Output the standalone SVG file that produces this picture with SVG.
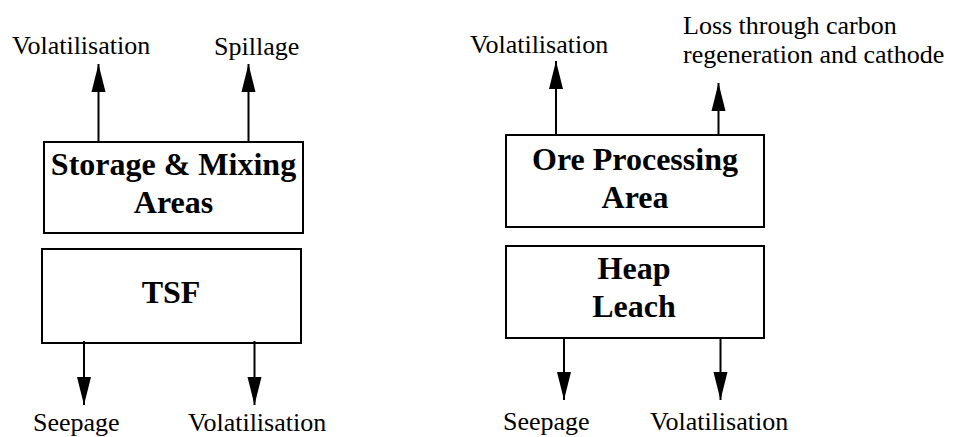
<svg xmlns="http://www.w3.org/2000/svg" width="953" height="437" viewBox="0 0 953 437">
  <style>
    .box { fill: #fff; stroke: #000; stroke-width: 2; }
    .title { font-size: 32px; font-weight: bold; fill: #000; text-anchor: middle; }
    .lbl { font-size: 26px; fill: #000; }
    .flow { stroke: #000; stroke-width: 2; fill: none; marker-end: url(#head); }
  </style>
  <defs>
    <marker id="head" markerUnits="userSpaceOnUse" markerWidth="30" markerHeight="16" refX="28" refY="7" orient="auto" viewBox="0 0 30 14">
      <path d="M0,0 L28,7 L0,14 Z" fill="#000"/>
    </marker>
  </defs>

  <rect width="953" height="437" fill="#fff"/>

  <g font-family="'Liberation Serif', 'Times New Roman', Tinos, 'DejaVu Serif', serif">
    <!-- Tailings side -->
    <g id="storage-mixing">
      <rect class="box" x="44" y="142" width="259" height="91"/>
      <text class="title" x="173.5" y="175">Storage &amp; Mixing</text>
      <text class="title" x="173.5" y="213">Areas</text>
    </g>
    <g id="tsf">
      <rect class="box" x="42" y="249" width="259" height="94"/>
      <text class="title" x="171" y="303">TSF</text>
    </g>

    <!-- Processing side -->
    <g id="ore-processing">
      <rect class="box" x="506" y="135" width="258" height="92"/>
      <text class="title" x="635" y="170">Ore Processing</text>
      <text class="title" x="635" y="208">Area</text>
    </g>
    <g id="heap-leach">
      <rect class="box" x="506" y="246" width="258" height="92"/>
      <text class="title" x="634" y="279">Heap</text>
      <text class="title" x="634" y="317">Leach</text>
    </g>

    <!-- Loss pathways -->
    <g id="connectors">
      <line class="flow" x1="98.5" y1="142" x2="98.5" y2="64"/>
      <line class="flow" x1="248.5" y1="142" x2="248.5" y2="64"/>
      <line class="flow" x1="84" y1="341" x2="84" y2="405"/>
      <line class="flow" x1="254.5" y1="341" x2="254.5" y2="405"/>
      <line class="flow" x1="556" y1="135" x2="556" y2="61"/>
      <line class="flow" x1="718.5" y1="135" x2="718.5" y2="83"/>
      <line class="flow" x1="564" y1="337" x2="564" y2="400"/>
      <line class="flow" x1="720.5" y1="337" x2="720.5" y2="400"/>
    </g>

    <g id="labels">
      <text class="lbl" x="12" y="54">Volatilisation</text>
      <text class="lbl" x="214" y="55">Spillage</text>
      <text class="lbl" x="33" y="431">Seepage</text>
      <text class="lbl" x="188" y="431">Volatilisation</text>
      <text class="lbl" x="470" y="53">Volatilisation</text>
      <text class="lbl" x="683" y="34">Loss through carbon</text>
      <text class="lbl" x="683" y="63">regeneration and cathode</text>
      <text class="lbl" x="503" y="430">Seepage</text>
      <text class="lbl" x="650" y="430">Volatilisation</text>
    </g>
  </g>
</svg>
